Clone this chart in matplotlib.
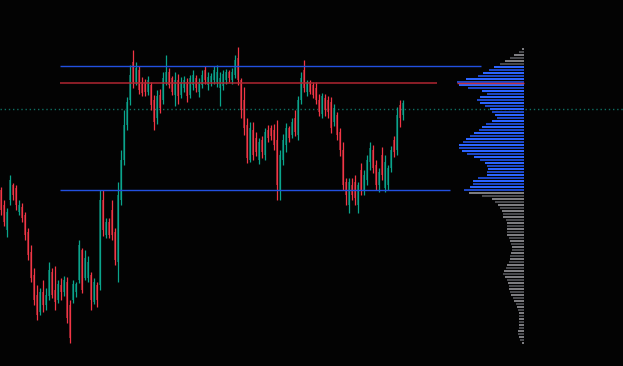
import numpy as np
import matplotlib
matplotlib.use("Agg")
import matplotlib.pyplot as plt

# candles (price units), one per bar index
opens = [210, 195, 170, 200, 215, 212, 188, 193, 185, 168, 148, 125, 105, 88, 108, 95, 104, 128, 110, 100,
         115, 108, 118, 95, 100, 108, 120, 150, 122, 122, 125, 98, 115, 115, 200, 165, 178, 190, 168, 138,
         200, 240, 275, 300, 338, 318, 330, 318, 318, 308, 315, 300, 282, 305, 300, 318, 328, 322, 305, 320,
         305, 312, 318, 305, 315, 322, 308, 315, 330, 315, 318, 320, 318, 312, 314, 320, 328, 320, 325, 342,
         320, 300, 275, 240, 270, 262, 240, 260, 245, 270, 272, 270, 260, 210, 240, 255, 272, 265, 282, 265,
         300, 330, 308, 318, 315, 312, 300, 286, 302, 300, 298, 278, 285, 268, 250, 218, 195, 215, 218, 195,
         230, 210, 220, 238, 250, 235, 215, 245, 212, 215, 232, 260, 250, 295, 285]
highs = [213, 200, 192, 225, 217, 215, 200, 197, 188, 172, 155, 132, 115, 112, 120, 112, 138, 132, 134, 120,
         122, 124, 123, 100, 120, 118, 160, 152, 150, 144, 128, 122, 118, 210, 210, 182, 182, 200, 172, 218,
         250, 290, 303, 335, 350, 338, 334, 323, 321, 324, 318, 305, 310, 311, 328, 345, 332, 324, 328, 326,
         323, 324, 322, 325, 330, 325, 322, 330, 334, 328, 327, 334, 335, 328, 330, 331, 330, 332, 345, 353,
         322, 313, 282, 278, 278, 268, 262, 264, 272, 275, 275, 276, 280, 250, 266, 277, 274, 282, 290, 304,
         328, 340, 320, 320, 318, 318, 306, 307, 306, 304, 303, 296, 288, 272, 258, 222, 222, 222, 225, 218,
         237, 230, 245, 258, 255, 240, 232, 253, 245, 235, 254, 264, 293, 300, 300]
lows = [185, 174, 163, 195, 200, 190, 185, 178, 160, 140, 118, 95, 80, 85, 88, 90, 100, 102, 90, 97,
        100, 104, 77, 57, 97, 103, 117, 107, 120, 118, 90, 96, 93, 110, 164, 162, 162, 160, 135, 118,
        195, 235, 270, 295, 312, 315, 306, 304, 304, 305, 290, 270, 276, 287, 296, 315, 312, 305, 294, 296,
        302, 308, 298, 302, 310, 308, 303, 312, 316, 310, 314, 316, 313, 294, 310, 316, 318, 316, 322, 315,
        282, 265, 237, 238, 240, 244, 236, 242, 240, 258, 260, 250, 200, 200, 235, 248, 258, 262, 264, 260,
        296, 308, 304, 306, 302, 296, 284, 282, 284, 282, 267, 274, 260, 244, 210, 195, 187, 200, 195, 187,
        205, 205, 215, 230, 227, 210, 208, 220, 208, 210, 228, 243, 245, 273, 280]
closes = [190, 178, 188, 220, 205, 195, 195, 182, 165, 145, 122, 100, 85, 108, 95, 105, 130, 105, 98, 116,
          108, 120, 82, 62, 116, 116, 155, 110, 142, 138, 100, 118, 100, 200, 170, 178, 165, 165, 140, 205,
          240, 275, 298, 325, 318, 332, 310, 307, 308, 320, 295, 278, 304, 292, 322, 328, 315, 308, 320, 304,
          318, 320, 304, 322, 325, 312, 318, 325, 320, 323, 324, 330, 328, 322, 326, 328, 322, 328, 340, 320,
          290, 272, 242, 272, 245, 248, 258, 248, 268, 262, 264, 255, 215, 245, 260, 272, 262, 278, 268, 300,
          322, 312, 318, 308, 305, 300, 288, 304, 290, 288, 272, 292, 265, 250, 215, 205, 218, 205, 202, 215,
          210, 225, 240, 252, 232, 215, 228, 225, 238, 232, 250, 248, 285, 282, 297]

# key levels
va_high = 334
poc = 317
last_price = 291
va_low = 210

# volume profile, top bin to bottom bin (bin step 3 price units)
profile_top = 351
profile_vol = [2, 5, 10, 14, 19, 24, 30, 35, 41, 46, 58, 67, 65, 56, 42, 37, 44, 47, 44, 39,
               34, 32, 29, 27, 32, 38, 42, 45, 50, 54, 58, 61, 65, 65, 62, 57, 50, 44, 39, 37,
               36, 37, 37, 46, 51, 51, 54, 60, 55, 42, 32, 29, 26, 24, 22, 21, 21, 18, 17, 17,
               17, 17, 17, 15, 14, 13, 12, 12, 13, 14, 14, 15, 17, 18, 20, 21, 19, 17, 16, 15,
               15, 14, 13, 11, 10, 8, 7, 6, 5, 5, 5, 5, 5, 5, 6, 6, 5, 4, 2]

bg = '#030303'
up_col, dn_col = '#0aa58c', '#f23645'
up_dark, dn_dark = '#0b5e52', '#86202a'

fig = plt.figure(figsize=(6.23, 3.66), dpi=100, facecolor=bg)
ax = fig.add_axes([0, 0, 1, 1], facecolor=bg)
ax.set_xlim(-0.33, 207.33)
ax.set_ylim(34, 400)
ax.axis('off')

# candles
x = np.arange(len(closes))
o = np.array(opens)
c = np.array(closes)
up = c >= o
wick_cols = np.where(up, up_col, dn_col)
body_cols = np.where(up, up_dark, dn_dark)
ax.bar(x, np.abs(c - o) + 0.5, bottom=np.minimum(o, c), width=0.75,
       color=body_cols, linewidth=0, zorder=2)
ax.vlines(x, lows, highs, colors=wick_cols, linewidth=0.9, zorder=3)

# level lines
ax.hlines(va_high, 19.67, 160, color='#2250e0', linewidth=1.0, zorder=4)
ax.hlines(poc, 19.67, 145.3, color='#b02631', linewidth=1.1, zorder=4)
ax.hlines(va_low, 19.67, 149.7, color='#2250e0', linewidth=1.0, zorder=4)

# volume profile
prof_right = 174.33
scale = 1 / 3
prices = profile_top - 3 * np.arange(len(profile_vol))
for k, (p, v) in enumerate(zip(prices, profile_vol)):
    in_va = va_low - 1 <= p <= va_high + 1
    if in_va:
        col = '#2c64ff' if k % 2 == 0 else '#1c45c4'
    else:
        col = '#7c7c80' if k % 2 == 0 else '#48494d'
    ax.barh(p, v * scale, left=prof_right - v * scale, height=2.6,
            color=col, linewidth=0, zorder=2)
poc_len = max(profile_vol) * scale
ax.hlines(poc, prof_right - poc_len, prof_right, color='#c0303c', linewidth=1.0, zorder=4)

# last price dotted line
ax.axhline(last_price, color='#0f6e62', linewidth=1.0, linestyle=(0, (1, 2)), zorder=1)

fig.savefig('out.png', dpi=100, facecolor=bg)
